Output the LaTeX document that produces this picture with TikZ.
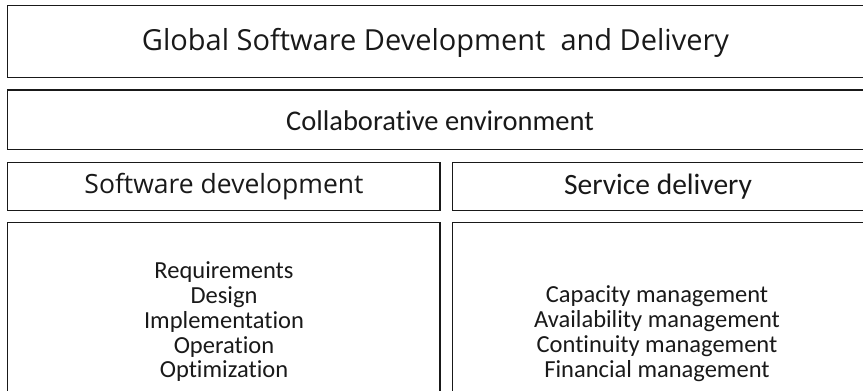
\documentclass[tikz,border=0pt]{standalone}
\usepackage{fontspec}
\setmainfont{Carlito}[Ligatures=NoCommon]
\newfontfamily\uifont{Open Sans}
\begin{document}
\begin{tikzpicture}[x=1pt,y=-1pt,
  box/.style={draw=black!90,line width=1.2pt,inner sep=0pt,outer sep=0pt},
  label/.style={inner sep=0pt,align=center,text=black!90}]
\useasboundingbox (0,0) rectangle (863,391);
\clip (0,0) rectangle (863,391);
% frames of the layered model
\draw[box] (7.5,5.5) rectangle (880,77.7);
\draw[box] (7.5,90) rectangle (880,149.7);
\draw[box] (7.5,162.7) rectangle (440,210.8);
\draw[box] (452.3,162.7) rectangle (880,210.8);
\draw[box] (7.5,222.7) rectangle (440,400);
\draw[box] (452.3,222.7) rectangle (880,400);
% texts
\node[label,font=\uifont\fontsize{29}{34}\selectfont] (title) at (435.5,43) {Global Software Development\ \ and Delivery};
\node[label,font=\fontsize{28.5}{32}\selectfont] (collab) at (440,121) {Collaborative environment};
\node[label,font=\uifont\fontsize{26.5}{31}\selectfont] (swdev) at (224,187) {Software development};
\node[label,font=\fontsize{29.5}{33}\selectfont] (svc) at (658,187) {Service delivery};
\node[label,font=\fontsize{24.5}{24.75}\selectfont] (swlist) at (224,322) {Requirements\\Design\\Implementation\\Operation\\Optimization};
\node[label,font=\fontsize{24.5}{25}\selectfont] (svclist) at (657,333.5) {Capacity management\\Availability management\\Continuity management\\Financial management};
\end{tikzpicture}
\end{document}
